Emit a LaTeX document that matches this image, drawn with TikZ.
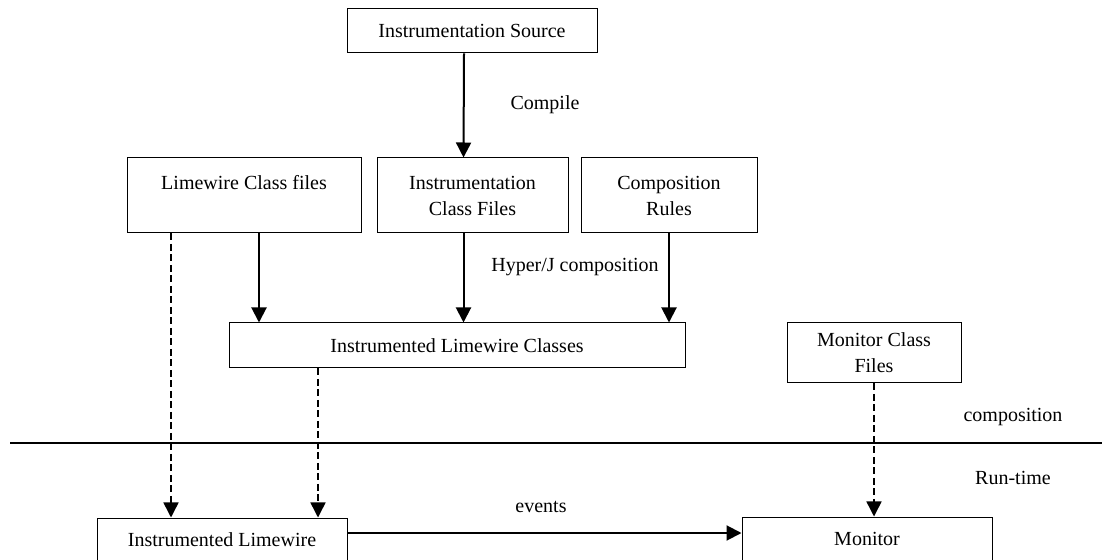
\documentclass[tikz,border=0pt]{standalone}
\usepackage{fontspec}
\setmainfont{Liberation Serif}
\usetikzlibrary{arrows.meta, positioning}

\begin{document}
\begin{tikzpicture}[x=0.5pt, y=-0.5pt, font=\fontsize{10}{13}\selectfont]
\tikzstyle{box} = [rectangle, draw=black, line width=0.5pt, align=center, inner sep=0pt]
\tikzstyle{arrow} = [line width=1pt, -{Triangle[width=7.5pt,length=7.5pt]}]
\tikzstyle{dasharrow} = [line width=0.75pt, dash pattern=on 3.5pt off 1.75pt, -{Triangle[width=7.5pt,length=7.5pt]}]

\useasboundingbox (0,0) rectangle (1102,560);

% composition side
\node (source) [box, minimum width=125pt, minimum height=22pt] at (472,31) {Instrumentation Source};
\node (lcf) [box, minimum width=117pt, minimum height=37.5pt] at (244,195.5) {Limewire Class files\\\mbox{}};
\node (icf) [box, minimum width=95.5pt, minimum height=37.5pt] at (472.5,195.5) {Instrumentation\\Class Files};
\node (rules) [box, minimum width=88pt, minimum height=37.5pt] at (669,195.5) {Composition\\Rules};
\node (ilc) [box, minimum width=228pt, minimum height=22.5pt] at (457,345.5) {Instrumented Limewire Classes};
\node (mcf) [box, minimum width=87pt, minimum height=30pt] at (874,353) {Monitor Class\\Files};

% run-time side
\node (il) [box, minimum width=125pt, minimum height=22pt] at (222,540) {Instrumented Limewire};
\node (monitor) [box, minimum width=125pt, minimum height=22pt] at (867,539) {Monitor};

\draw [arrow] ([xshift=-4pt]source.south) -- ([xshift=-4.5pt]icf.north);
\draw [arrow] ([xshift=7.5pt]lcf.south) -- ([xshift=7.5pt]lcf.south |- ilc.north);
\draw [arrow] ([xshift=-4.5pt]icf.south) -- ([xshift=-4.5pt]icf.south |- ilc.north);
\draw [arrow] (rules.south) -- (rules.south |- ilc.north);

\draw [dasharrow] ([xshift=-36.5pt]lcf.south) -- ([xshift=-36.5pt]lcf.south |- il.north);
\draw [dasharrow] ([xshift=-69.5pt]ilc.south) -- ([xshift=-69.5pt]ilc.south |- il.north);
\draw [dasharrow] (mcf.south) -- (mcf.south |- monitor.north);
\draw [arrow] ([yshift=3.5pt]il.east) -- ([yshift=3.5pt]il.east -| monitor.west);

% divider
\coordinate (sepL) at (10,443);
\coordinate (sepR) at (1102,443);
\draw [line width=1pt] (sepL) -- (sepR);

\node (compile) at (545,105) {Compile};
\node (hyperj) at (575,267) {Hyper/J composition};
\node (comptime) at (1013,417) {composition};
\node (runtime) at (1013,478) {Run-time};
\node (events) at (541,507) {events};
\end{tikzpicture}
\end{document}
